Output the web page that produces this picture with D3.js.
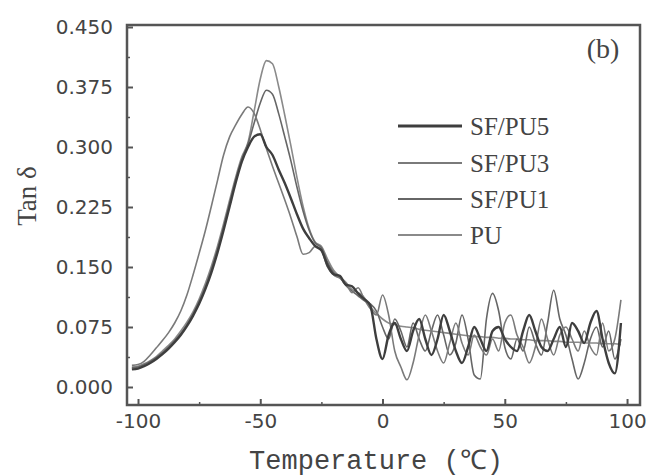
<!DOCTYPE html>
<html><head><meta charset="utf-8">
<script src="https://cdn.jsdelivr.net/npm/d3@7"></script>
<style>body{margin:0;background:#fff}svg{display:block}</style>
</head><body>
<svg id="c" width="655" height="476"></svg>
<script>
const temps = [-102.5,-100,-97.5,-95,-92.5,-90,-87.5,-85,-82.5,-80,-77.5,-75,-72.5,-70,-67.5,-65,-62.5,-60,-57.5,-55,
  -52.5,-50,-47.5,-45,-42.5,-40,-37.5,-35,-32.5,-30,-27.5,-25,-22.5,-20,-17.5,-15,-12.5,-10,-7.5,-5,-2.5,
  0,2.5,5,7.5,10,12.5,15,17.5,20,22.5,25,27.5,30,32.5,35,37.5,40,42.5,45,47.5,50,52.5,55,57.5,60,62.5,65,67.5,70,72.5,75,77.5,80,82.5,85,87.5,90,92.5,95,97.5];

const sfpu5 = [0.022,0.023,0.026,0.030,0.035,0.041,0.048,0.056,0.065,0.076,0.089,0.104,0.122,0.143,0.168,0.196,0.226,0.256,0.282,0.300,
  0.313,0.316,0.300,0.290,0.272,0.255,0.236,0.216,0.198,0.186,0.176,0.171,0.152,0.141,0.139,0.128,0.126,0.117,0.110,0.102,0.060,
  0.035,0.065,0.080,0.060,0.045,0.070,0.085,0.060,0.040,0.060,0.090,0.070,0.045,0.030,0.050,0.075,0.060,0.045,0.070,0.075,0.060,0.050,0.045,0.070,0.090,0.070,0.050,0.045,0.060,0.075,0.050,0.080,0.070,0.055,0.080,0.095,0.060,0.030,0.017,0.080];

const sfpu3 = [0.027,0.028,0.032,0.040,0.049,0.058,0.068,0.080,0.095,0.115,0.140,0.167,0.195,0.226,0.258,0.290,0.313,0.328,0.341,0.350,
  0.342,0.322,0.298,0.276,0.255,0.234,0.212,0.188,0.166,0.168,0.176,0.171,0.150,0.140,0.136,0.130,0.118,0.124,0.110,0.098,0.090,
  0.115,0.090,0.045,0.025,0.009,0.030,0.065,0.090,0.070,0.045,0.030,0.055,0.080,0.055,0.040,0.065,0.050,0.040,0.060,0.045,0.080,0.090,0.065,0.050,0.030,0.050,0.085,0.060,0.040,0.065,0.075,0.060,0.045,0.070,0.050,0.040,0.080,0.045,0.060,0.109];

const sfpu1 = [0.024,0.025,0.028,0.032,0.037,0.043,0.050,0.058,0.067,0.078,0.091,0.107,0.125,0.147,0.172,0.200,0.230,0.260,0.285,0.304,
  0.330,0.355,0.371,0.366,0.342,0.313,0.283,0.250,0.220,0.196,0.180,0.174,0.156,0.143,0.137,0.127,0.120,0.114,0.108,0.104,0.095,
  0.075,0.060,0.085,0.070,0.050,0.080,0.060,0.045,0.070,0.090,0.065,0.040,0.055,0.090,0.060,0.015,0.010,0.085,0.117,0.095,0.050,0.035,0.060,0.045,0.075,0.055,0.040,0.080,0.121,0.085,0.065,0.035,0.010,0.030,0.060,0.075,0.050,0.070,0.035,0.060];

const pu = [0.025,0.026,0.029,0.033,0.038,0.045,0.052,0.060,0.070,0.081,0.094,0.110,0.129,0.151,0.176,0.204,0.234,0.263,0.288,0.306,
  0.345,0.385,0.408,0.404,0.376,0.340,0.302,0.262,0.226,0.198,0.181,0.176,0.160,0.146,0.138,0.131,0.122,0.118,0.112,0.100,0.092,
  0.085,0.080,0.078,0.076,0.075,0.074,0.072,0.071,0.070,0.069,0.068,0.067,0.066,0.065,0.064,0.063,0.063,0.062,0.062,0.061,0.061,0.060,0.060,0.059,0.059,0.058,0.058,0.058,0.057,0.057,0.056,0.056,0.056,0.055,0.055,0.055,0.054,0.054,0.054,0.053];

const seriesNames = ["SF/PU5","SF/PU3","SF/PU1","PU"];
const seriesValues = [sfpu5, sfpu3, sfpu1, pu];
const seriesColors = ["#3e3e3e","#7a7a7a","#666666","#8a8a8a"];
const seriesWidths = [2.4,1.6,1.6,1.6];

const xTickValues = [-100,-50,0,50,100];
const xMinorTicks = [-75,-25,25,75];
const yTickValues = [0,0.075,0.15,0.225,0.3,0.375,0.45];
const yMinorTicks = [0.0375,0.1125,0.1875,0.2625,0.3375,0.4125];
const xTickLabels = ["-100","-50","0","50","100"];
const yTickLabels = ["0.000","0.075","0.150","0.225","0.300","0.375","0.450"];

const svg = d3.select("#c");
const L=127,R=640,T=25,B=405;
const x = d3.scaleLinear().domain([-104.5,105.3]).range([L,R]);
const y = d3.scaleLinear().domain([-0.0225,0.4525]).range([B,T]);

const axisColor="#555";
// minor ticks
svg.append("g").attr("transform",`translate(0,${B})`)
  .call(d3.axisBottom(x).tickValues(xMinorTicks).tickSizeInner(-3).tickSizeOuter(0).tickFormat(""))
  .call(g=>g.select(".domain").remove()).call(g=>g.selectAll("line").attr("stroke",axisColor).attr("stroke-width",1.5));
svg.append("g").attr("transform",`translate(${L},0)`)
  .call(d3.axisLeft(y).tickValues(yMinorTicks).tickSizeInner(-3).tickSizeOuter(0).tickFormat(""))
  .call(g=>g.select(".domain").remove()).call(g=>g.selectAll("line").attr("stroke",axisColor).attr("stroke-width",1.5));

const xa = svg.append("g").attr("transform",`translate(0,${B})`)
  .call(d3.axisBottom(x).tickValues(xTickValues).tickSizeInner(-6).tickSizeOuter(0).tickPadding(9)
    .tickFormat((d,i)=>xTickLabels[i]));
xa.select(".domain").remove();
xa.selectAll("line").attr("stroke",axisColor).attr("stroke-width",2);
xa.selectAll("text").attr("font-family","DejaVu Sans").attr("font-size",20).attr("fill","#444");

const ya = svg.append("g").attr("transform",`translate(${L},0)`)
  .call(d3.axisLeft(y).tickValues(yTickValues).tickSizeInner(-6).tickSizeOuter(0).tickPadding(14)
    .tickFormat((d,i)=>yTickLabels[i]));
ya.select(".domain").remove();
ya.selectAll("line").attr("stroke",axisColor).attr("stroke-width",2);
ya.selectAll("text").attr("font-family","DejaVu Sans").attr("font-size",20).attr("fill","#444");

// frame
svg.append("rect").attr("x",L).attr("y",T).attr("width",R-L).attr("height",B-T)
  .attr("fill","none").attr("stroke",axisColor).attr("stroke-width",2.5);

// lines
const line = d3.line().x((d,i)=>x(temps[i])).y(d=>y(d)).curve(d3.curveMonotoneX);
const order=[3,2,1,0];
order.forEach(k=>{
  svg.append("path").datum(seriesValues[k]).attr("d",line)
    .attr("fill","none").attr("stroke",seriesColors[k]).attr("stroke-width",seriesWidths[k])
    .attr("stroke-linejoin","round");
});

// legend
const legY=[126,163,199,235];
seriesNames.forEach((n,k)=>{
  svg.append("line").attr("x1",398).attr("x2",462).attr("y1",legY[k]).attr("y2",legY[k])
    .attr("stroke",seriesColors[k]).attr("stroke-width",k===0?3:2);
  svg.append("text").attr("x",470).attr("y",legY[k]+9).text(n)
    .attr("font-family","Liberation Serif").attr("font-size",25).attr("fill","#444");
});

svg.append("text").attr("x",603).attr("y",58).attr("text-anchor","middle").text("(b)")
  .attr("font-family","Liberation Serif").attr("font-size",28).attr("fill","#444");

svg.append("text").attr("transform","translate(36,196) rotate(-90)").attr("text-anchor","middle")
  .text("Tan δ").attr("font-family","Liberation Serif").attr("font-size",27).attr("fill","#444");

svg.append("text").attr("x",376).attr("y",469).attr("text-anchor","middle")
  .text("Temperature (℃)").attr("font-family","Liberation Mono").attr("font-size",27).attr("fill","#444");
</script>
</body></html>
